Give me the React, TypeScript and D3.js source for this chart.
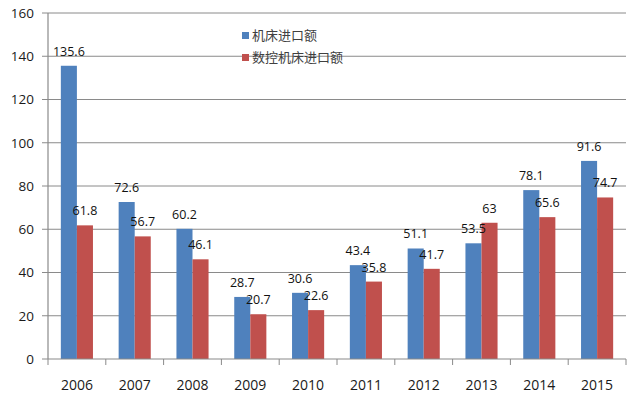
import * as d3 from 'd3';
import React from 'react';

// 机床进口额 / 数控机床进口额, 2006-2015
const years = ['2006', '2007', '2008', '2009', '2010', '2011', '2012', '2013', '2014', '2015'];
const seriesNames = ['机床进口额', '数控机床进口额'];
const machineImports = [135.6, 72.6, 60.2, 28.7, 30.6, 43.4, 51.1, 53.5, 78.1, 91.6];
const cncImports = [61.8, 56.7, 46.1, 20.7, 22.6, 35.8, 41.7, 63, 65.6, 74.7];
const yTicks = [0, 20, 40, 60, 80, 100, 120, 140, 160];

const colors = ['#4f81bd', '#c0504d'];
const axisColor = '#8a8a8a';
const font = "'Open Sans', 'Noto Sans CJK SC', sans-serif";

function App() {
  const width = 636, height = 395;
  const margin = { top: 13, right: 10, bottom: 36, left: 48 };

  const x = d3.scaleBand()
    .domain(years)
    .range([margin.left, width - margin.right])
    .paddingInner(0)
    .paddingOuter(0);

  const x1 = d3.scaleBand()
    .domain(seriesNames)
    .range([0, x.bandwidth()])
    .paddingInner(0)
    .paddingOuter(0.8);

  const y = d3.scaleLinear()
    .domain([0, 160])
    .range([height - margin.bottom, margin.top]);

  const data = years.map((yr, i) => ({
    year: yr,
    values: [machineImports[i], cncImports[i]],
  }));

  const x0 = margin.left, x1End = width - margin.right;
  const yBase = y(0);

  return (
    <div style={{ position: 'absolute', left: 0, top: 0 }}>
      <svg width={width} height={height} style={{ display: 'block', background: '#fff' }}>
        {/* grid lines + y ticks */}
        {yTicks.map(t => (
          <g key={t}>
            {t > 0 && <line x1={x0} x2={x1End} y1={y(t)} y2={y(t)} stroke={axisColor} strokeWidth={1} />}
            <line x1={x0 - 6} x2={x0} y1={y(t)} y2={y(t)} stroke={axisColor} strokeWidth={1} />
            <text x={34} y={y(t)} dy="0.36em" textAnchor="end" fontFamily={font} fontSize={13.5} fill="#1a1a1a">{t}</text>
          </g>
        ))}

        {/* bars */}
        {data.map(d => (
          <g key={d.year} transform={`translate(${x(d.year)},0)`}>
            {d.values.map((v, j) => (
              <rect key={j} x={x1(seriesNames[j])} width={x1.bandwidth()} y={y(v)} height={yBase - y(v)} fill={colors[j]} />
            ))}
          </g>
        ))}

        {/* value labels */}
        {data.map(d => (
          <g key={'l' + d.year} transform={`translate(${x(d.year)},0)`}>
            {d.values.map((v, j) => (
              <text key={j} x={(x1(seriesNames[j]) || 0) + x1.bandwidth() / 2} y={y(v) - 10}
                textAnchor="middle" fontFamily={font} fontSize={12.5} fill="#111">{v}</text>
            ))}
          </g>
        ))}

        {/* axes */}
        <line x1={x0} x2={x0} y1={y(160)} y2={yBase} stroke={axisColor} strokeWidth={1.2} />
        <line x1={x0} x2={x1End} y1={yBase} y2={yBase} stroke={axisColor} strokeWidth={1.2} />
        {years.concat(['end']).map((yr, i) => {
          const px = i < years.length ? (x(yr) as number) : x1End;
          return <line key={'t' + i} x1={px} x2={px} y1={yBase} y2={yBase + 6} stroke={axisColor} strokeWidth={1} />;
        })}
        {years.map(yr => (
          <text key={'x' + yr} x={(x(yr) as number) + x.bandwidth() / 2} y={390} textAnchor="middle"
            fontFamily={font} fontSize={14} fill="#1a1a1a">{yr}</text>
        ))}

        {/* legend */}
        {seriesNames.map((name, i) => (
          <g key={name} transform={`translate(242,${35.5 + i * 22})`}>
            <rect x={0} y={-3.5} width={7} height={7} fill={colors[i]} />
            <text x={10} y={0} dy="0.36em" fontFamily={font} fontSize={13} fill="#404040">{name}</text>
          </g>
        ))}
      </svg>
    </div>
  );
}

export default App;
